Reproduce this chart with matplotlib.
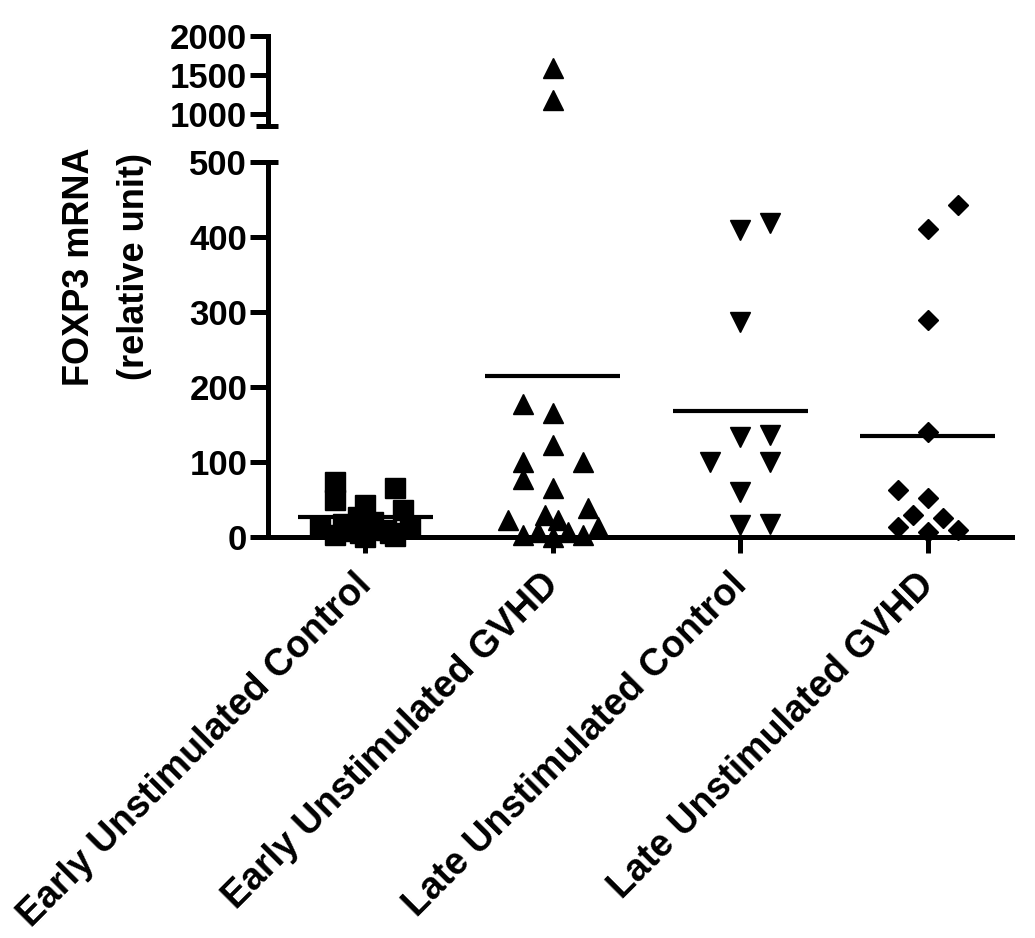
import numpy as np
import matplotlib.pyplot as plt
from matplotlib.transforms import blended_transform_factory, ScaledTranslation

plt.rcParams.update({"font.family": "Liberation Sans", "font.weight": "bold"})

# -- Data -----------------------------------------------------------
groups = [
    "Early Unstimulated Control",
    "Early Unstimulated GVHD",
    "Late Unstimulated Control",
    "Late Unstimulated GVHD",
]
markers = ["s", "^", "v", "D"]
marker_sizes = [14.5, 14.5, 14.5, 10.5]

early_ctrl = [73, 50, 65, 43, 36, 27, 20, 17, 13, 13, 10, 8, 6, 3, 0, 1, 5]
early_ctrl_dx = [-0.16, -0.16, 0.16, 0, 0.2, -0.04, 0.04, -0.12, -0.24, 0.24,
                 0.11, -0.08, 0.13, -0.16, 0, 0.16, -0.03]

early_gvhd = [178, 165, 123, 100, 100, 78, 65, 39, 23, 30, 23, 14, 3, 7, 0, 7,
              3, 1590, 1183]
early_gvhd_dx = [-0.16, 0, 0, -0.16, 0.16, -0.16, 0, 0.19, -0.24, -0.04, 0.03,
                 0.24, -0.16, -0.08, 0, 0.08, 0.16, 0, 0]

late_ctrl = [409, 418, 287, 134, 136, 100, 100, 60, 16, 18]
late_ctrl_dx = [0, 0.16, 0, 0, 0.16, -0.16, 0.16, 0, 0, 0.16]

late_gvhd = [443, 411, 289, 140, 63, 52, 29, 25, 14, 9, 7]
late_gvhd_dx = [0.16, 0, 0, 0, -0.16, 0, -0.08, 0.08, -0.16, 0.16, 0]

group_means = [27, 215, 168, 135]

values = [early_ctrl, early_gvhd, late_ctrl, late_gvhd]
offsets = [early_ctrl_dx, early_gvhd_dx, late_ctrl_dx, late_gvhd_dx]

LOW_TICKS = [0, 100, 200, 300, 400, 500]
HIGH_TICKS = [1000, 1500, 2000]

W, H = 1035, 938
LW = 3.6

fig = plt.figure(figsize=(W / 100, H / 100), dpi=100)
ax = fig.add_axes([268 / W, 1 - 537 / H, 744 / W, 375 / H])
ax_top = fig.add_axes([268 / W, 1 - 126 / H, 744 / W, 90 / H], sharex=ax)

xs = np.arange(1, len(groups) + 1)
for i, (vals, dx) in enumerate(zip(values, offsets)):
    vals = np.asarray(vals, dtype=float)
    xpos = xs[i] + np.asarray(dx)
    low = vals <= 500
    ax.plot(xpos[low], vals[low], linestyle="none", marker=markers[i],
            markersize=marker_sizes[i], color="black", clip_on=False, zorder=3)
    if (~low).any():
        ax_top.plot(xpos[~low], vals[~low], linestyle="none", marker=markers[i],
                    markersize=marker_sizes[i], color="black", clip_on=False,
                    zorder=3)

ax.hlines(group_means, xs - 0.36, xs + 0.36, color="black", linewidth=3)

ax.set_xlim(0.48, 4.45)
ax.set_ylim(0, 500)
ax_top.set_ylim(845, 2000)

for a in (ax, ax_top):
    for side in ("top", "right"):
        a.spines[side].set_visible(False)
    a.spines["left"].set_linewidth(LW)
    a.tick_params(axis="y", width=LW, length=13, labelsize=25, pad=2)

ax.spines["bottom"].set_linewidth(LW)
ax_top.spines["bottom"].set_visible(False)
ax_top.tick_params(axis="x", bottom=False, labelbottom=False)
ax_top.patch.set_visible(False)

ax.set_yticks(LOW_TICKS)
ax_top.set_yticks(HIGH_TICKS)

ax.set_xticks(xs)
ax.set_xticklabels(groups, rotation=45, ha="right", va="top",
                   rotation_mode="anchor", fontsize=27)
ax.tick_params(axis="x", width=LW, length=11.5, pad=10)
shift = ScaledTranslation(-0.12, 0, fig.dpi_scale_trans)
for lab in ax.get_xticklabels():
    lab.set_transform(lab.get_transform() + shift)

# break marks on the y axis
tr = blended_transform_factory(ax.transAxes, ax.transData)
ax.plot([0, 0.014], [500, 500], color="black", linewidth=LW, transform=tr,
        clip_on=False, solid_capstyle="butt")
tr_top = blended_transform_factory(ax_top.transAxes, ax_top.transData)
ax_top.plot([-0.016, 0.014], [845, 845], color="black", linewidth=LW,
            transform=tr_top, clip_on=False, solid_capstyle="butt")

fig.text(107 / W, 1 - 267 / H, "FOXP3 mRNA\n(relative unit)", rotation=90,
         ha="center", va="center", fontsize=26, linespacing=1.75,
         multialignment="center")

fig.savefig("out.png", dpi=100)
